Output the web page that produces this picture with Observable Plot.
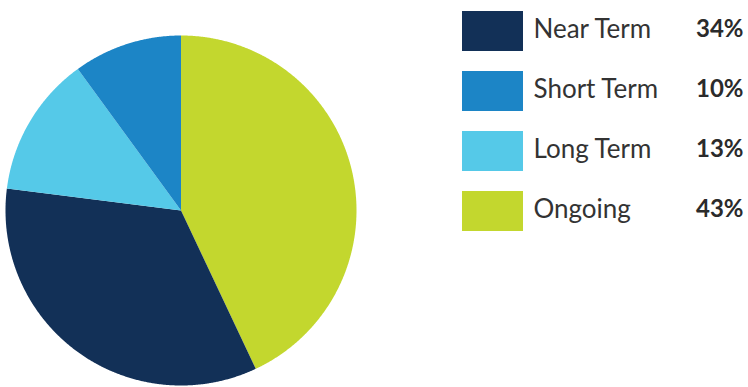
<!DOCTYPE html>
<html>
<head>
<meta charset="utf-8">
<script src="https://cdn.jsdelivr.net/npm/d3@7"></script>
<script src="https://cdn.jsdelivr.net/npm/@observablehq/plot@0.6"></script>
<style>
  html, body { margin: 0; padding: 0; background: #fff; }
  #wrap { position: relative; width: 748px; height: 387px; }
  #legend { position: absolute; left: 462px; top: 0; }
</style>
</head>
<body>
<div id="wrap"><div id="pie"></div><div id="legend"></div></div>
<script>
// Legend order
const categories = ["Near Term", "Short Term", "Long Term", "Ongoing"];
const shares = [34, 10, 13, 43];
const colors = ["#123057", "#1c85c6", "#55c9e8", "#c3d72e"];
// Pie drawing order (clockwise from 12 o'clock)
const pieOrder = ["Ongoing", "Near Term", "Long Term", "Short Term"];

const rows = categories.map((c, i) => ({category: c, share: shares[i]}));
const colorScale = {domain: categories, range: colors};

// Build slice outlines from d3.pie angles
const arcs = d3.pie().sort(null).value(d => d.share)(pieOrder.map(c => rows.find(r => r.category === c)));
const polys = [];
for (const a of arcs) {
  const cat = a.data.category;
  polys.push({category: cat, x: 0, y: 0});
  const n = Math.max(2, Math.ceil((a.endAngle - a.startAngle) / 0.005));
  for (let k = 0; k <= n; k++) {
    const t = a.startAngle + (a.endAngle - a.startAngle) * k / n;
    polys.push({category: cat, x: Math.sin(t), y: Math.cos(t)});
  }
}

const pie = Plot.plot({
  width: 748,
  height: 387,
  marginLeft: 5,
  marginRight: 392,
  marginTop: 35,
  marginBottom: 2,
  x: {domain: [-1, 1], axis: null},
  y: {domain: [-1, 1], axis: null},
  color: colorScale,
  marks: [
    Plot.line(polys, {x: "x", y: "y", z: "category", fill: "category", stroke: "none", curve: "linear-closed"})
  ]
});
document.getElementById("pie").appendChild(pie);

const legend = Plot.plot({
  width: 286,
  height: 387,
  marginLeft: 0,
  marginRight: 225,
  marginTop: 10,
  marginBottom: 156,
  style: {fontFamily: "Lato, sans-serif", overflow: "visible"},
  x: {axis: null},
  y: {domain: categories, type: "band", paddingInner: 1/3, paddingOuter: 0, axis: null},
  color: colorScale,
  marks: [
    Plot.cell(rows, {y: "category", fill: "category"}),
    Plot.text(rows, {y: "category", text: "category", frameAnchor: "left", dx: 71, dy: -2,
      textAnchor: "start", fontSize: 26, fontWeight: 400, fill: "#333333",
      letterSpacing: "0.7px"}),
    Plot.text(rows, {y: "category", text: d => `${d.share}%`, frameAnchor: "left", dx: 281, dy: -2,
      textAnchor: "end", fontSize: 24, fontWeight: "bold", fill: "#2b2b2b"})
  ]
});
document.getElementById("legend").appendChild(legend);
</script>
</body>
</html>
